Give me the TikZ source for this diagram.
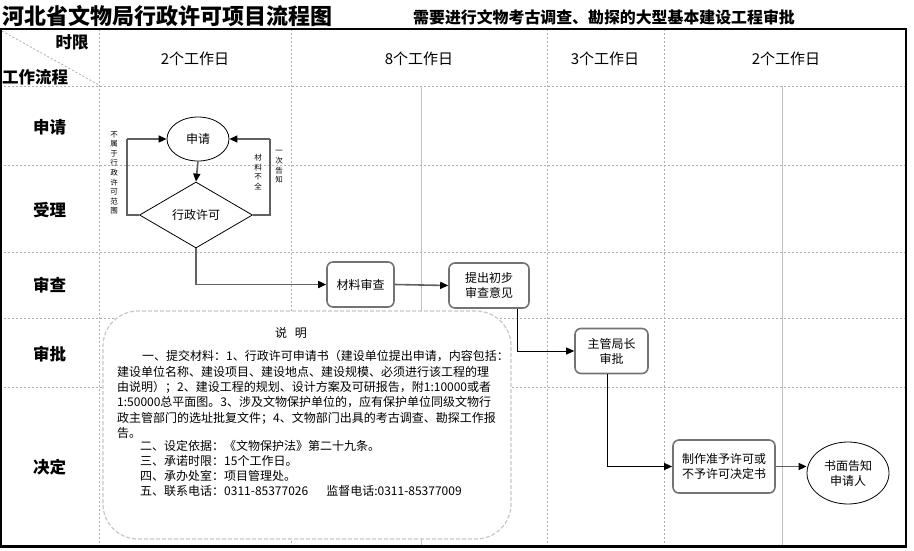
\documentclass[tikz,border=0pt]{standalone}
\usepackage{fontspec}
\setmainfont{Noto Sans CJK SC}
\usetikzlibrary{arrows.meta,shapes.geometric,calc}
\newcommand{\myfs}[2]{\fontsize{#1}{#2}\selectfont}
\begin{document}
\begin{tikzpicture}[x=1pt,y=-1pt,
  gridline/.style={draw=black!32, line width=0.8pt, dash pattern=on 2pt off 2pt},
  solidgrid/.style={draw=black!25, line width=1pt},
  garrow/.style={draw=black!62, line width=1.6pt, -{Triangle[length=8pt,width=7pt,color=black]}},
  karrow/.style={draw=black, line width=0.8pt, -{Triangle[length=8pt,width=7pt]}},
  gline/.style={draw=black!62, line width=1.6pt},
  rbox/.style={draw=black!55, line width=1.6pt, rounded corners=6pt, fill=white, align=center, font=\myfs{12}{15}, inner sep=0pt},
  ell/.style={ellipse, draw=black, line width=0.8pt, fill=white, align=center, font=\myfs{12}{15}, inner sep=0pt},
  rowlab/.style={font=\bfseries\myfs{16.5}{18}, inner sep=0pt},
  daylab/.style={font=\myfs{15}{17}, inner sep=0pt},
  notetxt/.style={font=\myfs{12}{14}, anchor=west, inner sep=0pt},
  vtext/.style={align=center, font=\myfs{7.5}{9.6}, inner sep=0pt}
]
\useasboundingbox (0,0) rectangle (914,550);
\fill[white] (0,0) rectangle (914,550);

% grid
\foreach \yy in {86,165,252,318,387} \draw[gridline] (0,\yy) -- (906,\yy);
\foreach \xx in {99,291,547,664} \draw[gridline] (\xx,29) -- (\xx,546);
\foreach \xx in {421,782} \draw[solidgrid] (\xx,86) -- (\xx,546);
\draw[gridline] (2,31) -- (99,85);

% border
\draw[line width=2.4pt] (1.2,29) rectangle (906,546.5);

% title
\node[anchor=west, inner sep=0pt, font=\bfseries\myfs{22}{24}] (title) at (2,16) {河北省文物局行政许可项目流程图};
\node[anchor=west, inner sep=0pt, font=\bfseries\myfs{15.9}{18}] (subtitle) at (413,17) {需要进行文物考古调查、勘探的大型基本建设工程审批};

% header
\node[rowlab] (shixian) at (72,42) {时限};
\node[rowlab, anchor=west] (gzlc) at (2,77) {工作流程};
\node[daylab] (day1) at (195,59) {2个工作日};
\node[daylab] (day2) at (419,59) {8个工作日};
\node[daylab] (day3) at (605,59) {3个工作日};
\node[daylab] (day4) at (786,59) {2个工作日};

% row labels
\node[rowlab] (r1) at (49.5,127) {申请};
\node[rowlab] (r2) at (49.5,210) {受理};
\node[rowlab] (r3) at (49.5,285) {审查};
\node[rowlab] (r4) at (49.5,354) {审批};
\node[rowlab] (r5) at (49.5,467) {决定};

% note box
\node[draw=black!22, line width=1.2pt, dash pattern=on 4pt off 2pt, rounded corners=35pt, fill=white,
      minimum width=408pt, minimum height=228pt, inner sep=0pt] (note) at (307,425) {};
\node[font=\myfs{12}{14}, inner sep=0pt] (n0) at (291,333) {说\hspace{8pt}明};
\node[notetxt] (n1) at (142,356) {一、提交材料：1、行政许可申请书（建设单位提出申请，内容包括：};
\node[notetxt] (n2) at (117,371.5) {建设单位名称、建设项目、建设地点、建设规模、必须进行该工程的理};
\node[notetxt] (n3) at (117,387) {由说明）；2、建设工程的规划、设计方案及可研报告，附1:10000或者};
\node[notetxt] (n4) at (117,402.5) {1:50000总平面图。3、涉及文物保护单位的，应有保护单位同级文物行};
\node[notetxt] (n5) at (117,418) {政主管部门的选址批复文件；4、文物部门出具的考古调查、勘探工作报};
\node[notetxt] (n6) at (117,432.5) {告。};
\node[notetxt] (n7) at (140,446) {二、设定依据：《文物保护法》第二十九条。};
\node[notetxt] (n8) at (140,461) {三、承诺时限：15个工作日。};
\node[notetxt] (n9) at (140,476) {四、承办处室：项目管理处。};
\node[notetxt] (n10) at (140,491) {五、联系电话：0311-85377026\hspace{18pt}监督电话:0311-85377009};

% flow nodes
\node[ell, minimum width=62pt, minimum height=44pt] (e) at (198,139) {申请};
\node[diamond, draw=black, line width=0.8pt, fill=white, minimum width=113pt, minimum height=66pt, inner sep=0pt, font=\myfs{12}{15}] (d) at (196,215) {行政许可};
\node[rbox, minimum width=67pt, minimum height=45pt] (m) at (360.5,284.5) {材料审查};
\node[rbox, minimum width=80pt, minimum height=45pt] (t) at (489,285.5) {提出初步\\审查意见};
\node[rbox, minimum width=73pt, minimum height=45pt] (z) at (611.5,351) {主管局长\\审批};
\node[rbox, minimum width=102pt, minimum height=53pt] (k) at (724,466.5) {制作准予许可或\\不予许可决定书};
\node[ell, minimum width=82pt, minimum height=62pt] (s) at (848,473) {书面告知\\申请人};

% vertical labels
\node[vtext] (v1) at (114,173) {不\\属\\于\\行\\政\\许\\可\\范\\围};
\node[vtext] (v2) at (258,172) {材\\料\\不\\全};
\node[vtext] (v3) at (279,167) {一\\次\\告\\知};

% connectors
\draw[garrow] (e.south) -- (d.north);
\coordinate (lc) at (127,139);
\coordinate (rc) at (270,139);
\draw[gline] (d.west) -- (d.west -| lc) -- (lc);
\draw[garrow] (lc) -- (e.west);
\draw[gline] (d.east) -- (d.east -| rc) -- (rc);
\draw[garrow] (rc) -- (e.east);
\draw[garrow] (d.south) |- (m.west);
\draw[garrow] (m.east) -- (t.west);
\draw[karrow] ([xshift=28pt]t.south) |- (z.west);
\draw[karrow] ([xshift=-4pt]z.south) |- (k.west);
\draw[garrow] (k.east) -- (k.east -| s.west);
\end{tikzpicture}
\end{document}
